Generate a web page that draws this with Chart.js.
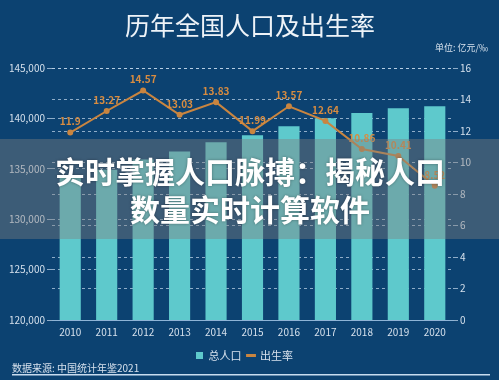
<!DOCTYPE html>
<html>
<head>
<meta charset="utf-8">
<script src="https://cdn.jsdelivr.net/npm/chart.js@4.4.0/dist/chart.umd.min.js"></script>
<style>
  html, body { margin: 0; padding: 0; background: #0c4271; }
  #wrap { width: 499px; height: 380px; position: relative; }
</style>
</head>
<body>
<div id="wrap"><canvas id="grafico" width="499" height="380"></canvas></div>
<script>
const anos = ["2010", "2011", "2012", "2013", "2014", "2015", "2016", "2017", "2018", "2019", "2020"];
const populacao = [134091, 134916, 135922, 136726, 137646, 138326, 139232, 140011, 140541, 141008, 141212];
const natalidade = [11.9, 13.27, 14.57, 13.03, 13.83, 11.99, 13.57, 12.64, 10.86, 10.41, 8.52];
const rotulos = ["11.9", "13.27", "14.57", "13.03", "13.83", "11.99", "13.57", "12.64", "10.86", "10.41", "8.52"];

const FONTE = "'Noto Sans CJK SC', 'Noto Sans', sans-serif";
const corTexto = "#d5e0ec";
const corGrade = "rgba(200,220,240,0.7)";

// rótulos da linha + título, faixa e rodapé
const extras = {
    id: "extras",
    afterDatasetsDraw(chart) {
        const ctx = chart.ctx;
        const meta = chart.getDatasetMeta(1);
        ctx.save();
        ctx.font = "bold 10px " + FONTE;
        ctx.fillStyle = "#d88c40";
        ctx.textAlign = "center";
        ctx.textBaseline = "middle";
        meta.data.forEach((p, i) => {
            ctx.fillText(rotulos[i], p.x, p.y - 11);
        });
        ctx.restore();
    },
    afterDraw(chart) {
        const ctx = chart.ctx;
        ctx.save();
        // título
        ctx.fillStyle = "#eef3f8";
        ctx.font = "25px " + FONTE;
        ctx.textAlign = "center";
        ctx.textBaseline = "middle";
        ctx.fillText("历年全国人口及出生率", 250, 25);
        // unidade
        ctx.font = "9px " + FONTE;
        ctx.textAlign = "right";
        ctx.fillStyle = corTexto;
        ctx.fillText("单位: 亿元/‰", 488, 48);
        // rodapé
        ctx.textAlign = "left";
        ctx.font = "10px " + FONTE;
        ctx.fillText("数据来源: 中国统计年鉴2021", 12, 368);
        ctx.fillStyle = "#c8dcef";
        ctx.fillRect(12, 374, 478, 1.5);
        // faixa sobreposta
        ctx.fillStyle = "rgba(128,128,128,0.42)";
        ctx.fillRect(0, 139, 499, 100);
        ctx.fillStyle = "#ffffff";
        ctx.textAlign = "center";
        ctx.font = "bold 30px " + FONTE;
        ctx.shadowColor = "rgba(0,0,0,0.35)";
        ctx.shadowBlur = 3;
        ctx.fillText("实时掌握人口脉搏：揭秘人口", 250, 172);
        ctx.fillText("数量实时计算软件", 250, 210);
        ctx.restore();
    }
};

const ctxGrafico = document.getElementById("grafico").getContext("2d");
new Chart(ctxGrafico, {
    type: "bar",
    data: {
        labels: anos,
        datasets: [
            {
                label: "总人口",
                data: populacao,
                backgroundColor: "#5ec9cc",
                yAxisID: "y",
                barPercentage: 0.58,
                categoryPercentage: 1,
                order: 2
            },
            {
                type: "line",
                label: "出生率",
                data: natalidade,
                borderColor: "#c98540",
                backgroundColor: "#c98540",
                borderWidth: 2,
                pointRadius: 2,
                pointBackgroundColor: "#c98540",
                tension: 0,
                yAxisID: "y1",
                order: 1
            }
        ]
    },
    options: {
        responsive: false,
        animation: false,
        layout: { padding: { top: 68, left: 4, right: 14, bottom: 9 } },
        plugins: {
            title: { display: false },
            tooltip: { enabled: false },
            legend: {
                position: "bottom",
                labels: {
                    color: corTexto,
                    font: { family: FONTE, size: 11 },
                    usePointStyle: true,
                    boxWidth: 7,
                    boxHeight: 7,
                    padding: 6,
                    generateLabels(chart) {
                        return [
                            { text: "总人口", fillStyle: "#5ec9cc", strokeStyle: "#5ec9cc", lineWidth: 0, pointStyle: "rect", fontColor: corTexto, datasetIndex: 0 },
                            { text: "出生率", fillStyle: "#c98540", strokeStyle: "#c98540", lineWidth: 3, pointStyle: "line", fontColor: corTexto, datasetIndex: 1 }
                        ];
                    }
                }
            }
        },
        scales: {
            x: {
                grid: { display: false, drawTicks: false },
                border: { color: "#8fb4d6", width: 1 },
                ticks: { color: corTexto, font: { family: FONTE, size: 10 }, padding: 6 }
            },
            y: {
                position: "left",
                min: 120000,
                max: 145000,
                afterFit(scale) { scale.width = 48; },
                ticks: {
                    stepSize: 5000,
                    color: corTexto,
                    font: { family: FONTE, size: 10 },
                    padding: 2,
                    callback: v => v.toLocaleString("en-US")
                },
                border: { display: false, dash: [3, 3] },
                grid: { color: corGrade, tickLength: 5, lineWidth: 1 }
            },
            y1: {
                position: "right",
                min: 0,
                max: 16,
                afterFit(scale) { scale.width = 32; },
                ticks: { stepSize: 2, color: corTexto, font: { family: FONTE, size: 10 }, padding: 2 },
                border: { display: false, dash: [3, 3] },
                grid: { color: corGrade, tickLength: 5, lineWidth: 1 }
            }
        }
    },
    plugins: [extras]
});
</script>
</body>
</html>
